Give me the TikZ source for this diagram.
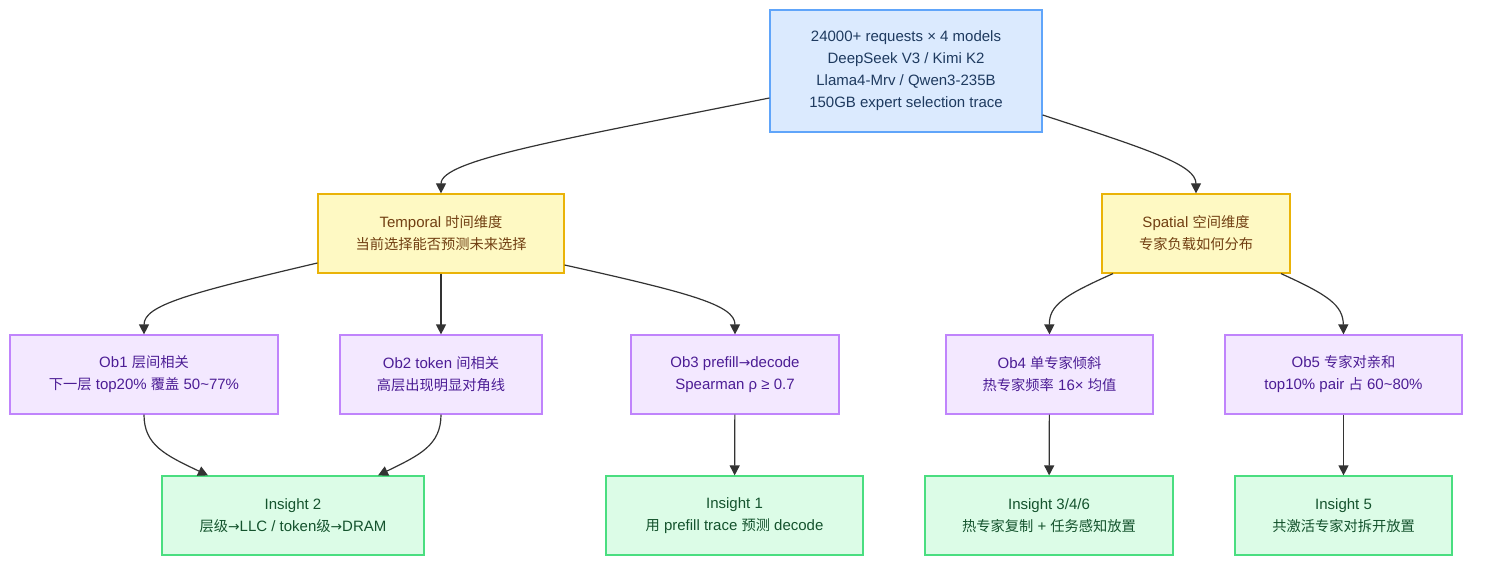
\documentclass[tikz,border=0pt]{standalone}
\usepackage{fontspec}
\setmainfont{Liberation Sans}
\newfontfamily\cjk[Scale=0.95]{Noto Sans CJK SC}
\newfontfamily\symf[Scale=0.92]{DejaVu Sans}
\newcommand{\zh}[1]{{\cjk #1}}
\newcommand{\toarrow}{{\symf →}}
\usepackage{tikz}
\usetikzlibrary{arrows.meta,calc}

\definecolor{srcfill}{HTML}{DBEAFE}
\definecolor{srcline}{HTML}{60A5FA}
\definecolor{srctext}{HTML}{1E3A5F}
\definecolor{dimfill}{HTML}{FEF9C3}
\definecolor{dimline}{HTML}{EAB308}
\definecolor{dimtext}{HTML}{713F12}
\definecolor{obsfill}{HTML}{F3E8FF}
\definecolor{obsline}{HTML}{C084FC}
\definecolor{obstext}{HTML}{4C1D95}
\definecolor{insfill}{HTML}{DCFCE7}
\definecolor{insline}{HTML}{4ADE80}
\definecolor{instext}{HTML}{14532D}
\definecolor{edgecol}{HTML}{333333}

\begin{document}
\begin{tikzpicture}[x=1pt, y=-1pt,
  >={Triangle[length=10pt,width=10pt]},
  box/.style={draw, line width=1.2pt, inner sep=0pt, align=center,
    minimum height=79pt, font=\fontsize{15}{22}\selectfont},
  srcbox/.style={box, fill=srcfill, draw=srcline, text=srctext},
  dimbox/.style={box, fill=dimfill, draw=dimline, text=dimtext},
  obsbox/.style={box, fill=obsfill, draw=obsline, text=obstext},
  insbox/.style={box, fill=insfill, draw=insline, text=instext},
  link/.style={->, draw=edgecol, line width=1.2pt}]
  \useasboundingbox (0,0) rectangle (1488,572);

  % dados de entrada
  \node[srcbox, minimum width=272pt, minimum height=122pt] (top) at (906,71)
    {24000+ requests × 4 models\\DeepSeek V3 / Kimi K2\\Llama4-Mrv / Qwen3-235B\\150GB expert selection trace};

  % dimensoes
  \node[dimbox, minimum width=246pt] (temporal) at (441,233.5) {Temporal \zh{时间维度}\\\zh{当前选择能否预测未来选择}};
  \node[dimbox, minimum width=188pt] (spatial) at (1196,233.5) {Spatial \zh{空间维度}\\\zh{专家负载如何分布}};

  % observacoes
  \node[obsbox, minimum width=268pt] (ob1) at (144,374.5) {Ob1 \zh{层间相关}\\\zh{下一层} top20\% \zh{覆盖} 50\textasciitilde77\%};
  \node[obsbox, minimum width=202pt] (ob2) at (441,374.5) {Ob2 token \zh{间相关}\\\zh{高层出现明显对角线}};
  \node[obsbox, minimum width=208pt] (ob3) at (735,374.5) {Ob3 prefill\toarrow decode\\Spearman ρ ≥ 0.7};
  \node[obsbox, minimum width=207pt] (ob4) at (1049.5,374.5) {Ob4 \zh{单专家倾斜}\\\zh{热专家频率} 16× \zh{均值}};
  \node[obsbox, minimum width=237pt] (ob5) at (1343.5,374.5) {Ob5 \zh{专家对亲和}\\top10\% pair \zh{占} 60\textasciitilde80\%};

  % insights
  \node[insbox, minimum width=262pt] (ins2) at (293,515.5) {Insight 2\\\zh{层级}\toarrow LLC / token\zh{级}\toarrow DRAM};
  \node[insbox, minimum width=257pt] (ins1) at (734.5,515.5) {Insight 1\\\zh{用} prefill trace \zh{预测} decode};
  \node[insbox, minimum width=248pt] (ins346) at (1049,515.5) {Insight 3/4/6\\\zh{热专家复制} + \zh{任务感知放置}};
  \node[insbox, minimum width=217pt] (ins5) at (1343.5,515.5) {Insight 5\\\zh{共激活专家对拆开放置}};

  % ligacoes
  \draw[link] ($(top.west)+(0,27)$) .. controls (560,140) and (441,160) .. (temporal.north);
  \draw[link] ($(top.east)+(0,44)$) .. controls (1150,150) and (1196,165) .. (spatial.north);

  \draw[link] ($(temporal.west)+(0,29.5)$) .. controls (190,293) and (144,305) .. (ob1.north);
  \draw[link] (temporal) -- (ob2);
  \draw[link] ($(temporal.east)+(0,31.5)$) .. controls (690,293) and (735,305) .. (ob3.north);
  \draw[link] ($(spatial.south)+(-83,0)$) .. controls (1065,295) and (1049,305) .. (ob4.north);
  \draw[link] ($(spatial.south)+(85,0)$) .. controls (1328,295) and (1343,305) .. (ob5.north);

  \draw[link] (ob1.south) .. controls (144,445) and (165,455) .. ($(ins2.north)+(-85,0)$);
  \draw[link] (ob2.south) .. controls (441,445) and (420,455) .. ($(ins2.north)+(85,0)$);
  \draw[link] (ob3) -- (ins1);
  \draw[link] (ob4) -- (ins346);
  \draw[link] (ob5) -- (ins5);
\end{tikzpicture}
\end{document}
